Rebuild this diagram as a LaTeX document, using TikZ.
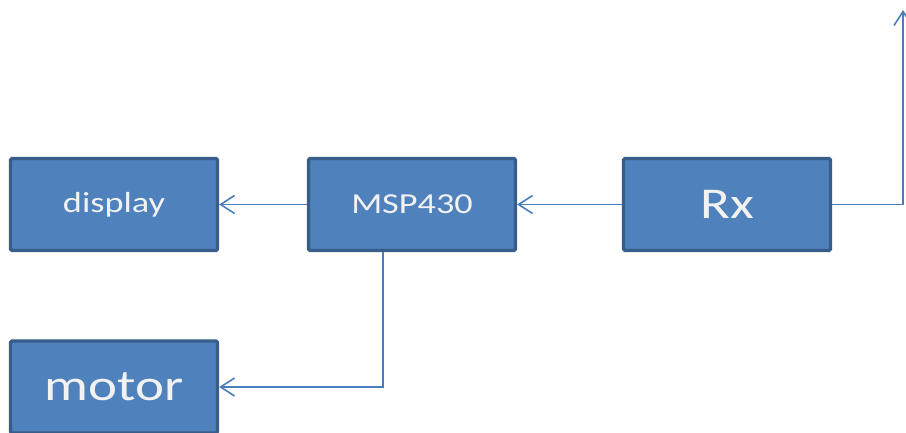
\documentclass[tikz,border=0pt]{standalone}
\usepackage{fontspec}
\setmainfont{Carlito}[FakeStretch=1.25]
\usetikzlibrary{arrows.meta}
\definecolor{boxfill}{RGB}{79,129,189}
\definecolor{boxline}{RGB}{56,93,138}
\definecolor{wire}{RGB}{74,126,187}
\definecolor{labeltext}{RGB}{242,242,242}
\tikzset{
  blockbox/.style={draw=boxline, fill=boxfill, line width=3.2pt, rounded corners=1.5pt,
    minimum width=207pt, minimum height=92pt, inner sep=0pt, text=labeltext},
  smalltext/.style={font=\fontsize{29}{32}\selectfont},
  bigtext/.style={font=\fontsize{44}{47}\selectfont},
  wireline/.style={draw=wire, line width=1.8pt, -{Straight Barb[length=14pt,width=18pt,line width=1.6pt]}}
}
\begin{document}
\begin{tikzpicture}[x=1pt,y=-1pt]
\useasboundingbox (0,0) rectangle (906,432);
\clip (0,0) rectangle (906,432);
\node[blockbox, smalltext] (display) at (114,204.5) {display};
\node[blockbox, smalltext] (msp) at (412,204.5) {MSP430};
\node[blockbox, bigtext] (rx) at (727,204.5) {Rx};
\node[blockbox, bigtext] (motor) at (114,387) {motor};
\coordinate (ant) at (903,10);
\coordinate (bend) at (903,204.5);
\coordinate (down) at (383,387);
\draw[wireline] (msp.west) -- (display.east);
\draw[wireline] (rx.west) -- (msp.east);
\draw[wireline] (msp.south -| down) -- (down) -- (motor.east);
\draw[wireline] (rx.east) -- (bend) -- (ant);
\end{tikzpicture}
\end{document}
